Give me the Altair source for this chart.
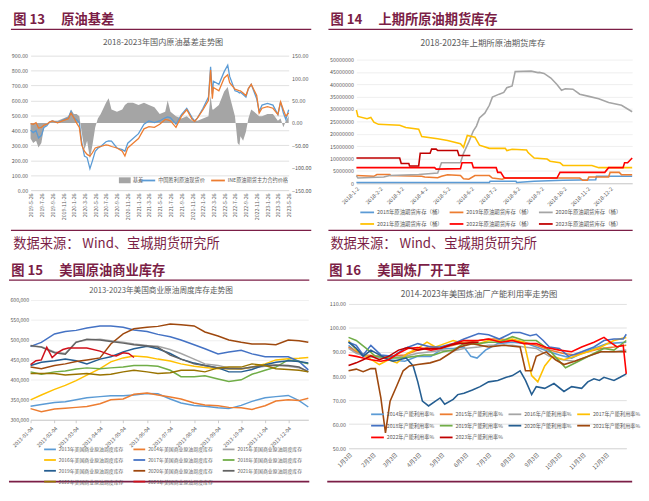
import altair as alt
import pandas as pd

FONT = "Noto Sans CJK SC"
MAROON = "#7B1E46"
TXT = "#595959"
GRIDC = "#D9D9D9"
FAINT = "#EBEBEB"
AXC = "#BFBFBF"
SOURCE = "数据来源： Wind、宝城期货研究所"

# ---------------- Fig 13 data ----------------
head13 = "图 13\u3000 原油基差"
title13 = "2018-2023年国内原油基差走势图"
dates13 = ["2019-05-26", "2019-06-10", "2019-06-26", "2019-07-10", "2019-07-26", "2019-08-10", "2019-08-26",
           "2019-09-10", "2019-09-26", "2019-10-26", "2019-11-26", "2019-12-26",
           "2020-01-10", "2020-01-26", "2020-02-10", "2020-02-26", "2020-03-10", "2020-03-26", "2020-04-10",
           "2020-04-26", "2020-05-10", "2020-05-26", "2020-06-10", "2020-06-26", "2020-07-26", "2020-08-10",
           "2020-08-26", "2020-09-26", "2020-10-26", "2020-11-10", "2020-11-26", "2020-12-26",
           "2021-01-26", "2021-02-26", "2021-03-26", "2021-04-26", "2021-05-26", "2021-06-26", "2021-07-10",
           "2021-07-26", "2021-08-26", "2021-09-26", "2021-10-26", "2021-11-26", "2021-12-10", "2021-12-26",
           "2022-01-26", "2022-02-26", "2022-03-10", "2022-03-20", "2022-03-26", "2022-04-26", "2022-05-26",
           "2022-06-15", "2022-06-26", "2022-07-26", "2022-08-10", "2022-08-20", "2022-08-26", "2022-09-10",
           "2022-09-26", "2022-10-10", "2022-10-26", "2022-11-26", "2022-12-10", "2022-12-26",
           "2023-01-26", "2023-02-26", "2023-03-26", "2023-04-10", "2023-04-26", "2023-05-10", "2023-05-26"]
spot13 = [400, 385, 399, 350, 365, 420, 431, 455, 463, 452, 469, 484,
          527, 484, 470, 452, 324, 228, 218, 143, 196, 260, 280, 292, 324, 330, 328, 282, 271, 260, 314, 345,
          378, 441, 463, 452, 463, 484, 490, 484, 441, 506, 548, 484, 463, 484,
          548, 623, 825, 644, 729, 708, 793, 836, 761, 665, 660, 650, 655, 640, 623, 680, 708, 612, 527, 569,
          580, 569, 506, 591, 516, 473, 538]
fut13 = [445, 440, 452, 415, 420, 435, 441, 455, 463, 450, 465, 478,
         516, 484, 450, 420, 303, 260, 239, 228, 250, 282, 288, 292, 303, 300, 292, 282, 260, 228, 282, 314,
         345, 410, 425, 420, 441, 473, 470, 463, 420, 495, 538, 473, 460, 484,
         538, 601, 804, 612, 687, 665, 751, 772, 719, 676, 670, 665, 665, 650, 633, 680, 708, 633, 516, 548,
         559, 548, 506, 591, 538, 495, 516]
basis13 = [-35, -45, -40, -55, -45, -10, -5, 0, 5, 5, 10, 15,
           30, 20, 20, 15, -20, -60, -40, -80, -50, -10, 10, 20, 45, 55, 30, 25, 30, 40, 45, 45,
           40, 45, 40, 35, 20, 25, 50, 25, 15, 10, 15, 5, 5, 5,
           10, 15, 60, 30, 30, 40, 70, 80, 60, 15, -45, -50, -30, -40, -20, 10, 30, 20, 15, 15,
           20, 20, 5, 10, -10, 5, 15]
basis_name = "基差"
series13 = ["中国胜利原油现货价", "INE原油期货主力合约价格"]
colors13 = ["#5B9BD5", "#ED7D31"]
ticks13 = ["2019-05-26", "2019-07-26", "2019-09-26", "2019-11-26", "2020-01-26", "2020-03-26", "2020-05-26",
           "2020-07-26", "2020-09-26", "2020-11-26", "2021-01-26", "2021-03-26", "2021-05-26", "2021-07-26",
           "2021-09-26", "2021-11-26", "2022-01-26", "2022-03-26", "2022-05-26", "2022-07-26", "2022-09-26",
           "2022-11-26", "2023-01-26", "2023-03-26", "2023-05-26"]

# ---------------- Fig 14 data (day offset from 2018-01-02, million barrels) ----------------
head14 = "图 14\u3000 上期所原油期货库存"
title14 = "2018-2023年上期所原油期货库存"
names14 = ["2018年原油期货库存（桶）", "2019年原油期货库存（桶）", "2020年原油期货库存（桶）",
           "2021年原油期货库存（桶）", "2022年原油期货库存（桶）", "2023年原油期货库存（桶）"]
colors14 = ["#5B9BD5", "#ED7D31", "#A5A5A5", "#FFC000", "#FF0000", "#C00000"]
d14_2018 = [0, 175, 176, 210, 211, 234, 272, 315, 316, 363]
v14_2018 = [0.3, 0.3, 0.8, 0.8, 0.3, 0.8, 1.2, 1.4, 2.8, 2.8]
d14_2019 = [0, 23, 27, 44, 45, 86, 90, 107, 112, 120, 137, 141, 148, 156, 175, 179, 192, 196, 294, 298, 304, 306,
            332, 334, 346, 349, 363]
v14_2019 = [3.1, 2.8, 3.5, 3.5, 3.1, 2.8, 2.5, 2.2, 2.8, 3.4, 3.1, 1.8, 1.6, 3.1, 3.1, 2.1, 1.6, 2.1, 2.1, 1.2, 1.2,
            2.5, 2.5, 4.4, 4.4, 3.4, 3.4]
d14_2020 = [0, 2, 36, 44, 82, 107, 112, 137, 141, 148, 154, 158, 162, 169, 175, 179, 188, 194, 198, 205, 209, 230,
            239, 241, 247, 256, 264, 270, 275, 285, 294, 306, 319, 332, 349, 363]
v14_2020 = [3.1, 2.1, 2.5, 3.1, 3.5, 4.1, 8.3, 8.3, 12.1, 16.7, 21.2, 23.1, 26.4, 28.3, 31.5, 34.8, 36.0, 36.7, 38.6,
            39.3, 45.1, 45.3, 44.7, 44.8, 44.4, 42.5, 39.9, 37.6, 38.2, 38.0, 36.0, 35.1, 34.1, 32.6, 31.5, 28.9]
d14_2021 = [0, 2, 14, 19, 23, 29, 57, 65, 82, 86, 107, 120, 137, 141, 146, 156, 162, 175, 196, 198, 205, 224, 226,
            234, 251, 255, 268, 272, 310, 319, 363]
v14_2021 = [29.6, 27.0, 26.1, 26.6, 24.7, 23.8, 23.4, 22.5, 21.8, 18.9, 18.0, 17.3, 16.0, 14.5, 19.3, 18.6, 15.4,
            14.1, 14.1, 13.2, 13.7, 13.4, 12.4, 10.2, 9.8, 8.9, 8.3, 7.2, 7.2, 6.3, 6.3]
d14_2022 = [0, 103, 105, 137, 139, 152, 154, 184, 186, 190, 194, 196, 264, 268, 327, 332, 351, 353, 357, 363]
v14_2022 = [6.3, 6.3, 5.7, 5.9, 8.3, 8.3, 6.3, 6.3, 4.4, 4.4, 2.5, 2.1, 2.1, 4.4, 4.4, 6.3, 6.3, 8.3, 8.3, 10.2]
d14_2023 = [0, 57, 59, 69, 70, 82, 84, 97, 99, 105, 107, 133, 135, 150]
v14_2023 = [10.2, 10.2, 8.0, 8.0, 7.0, 7.0, 12.1, 12.1, 13.8, 13.8, 13.2, 13.2, 11.2, 11.2]
ticks14 = ["2018-01-02", "2018-02-02", "2018-03-02", "2018-04-02", "2018-05-02", "2018-06-02", "2018-07-02",
           "2018-08-02", "2018-09-02", "2018-10-02", "2018-11-02", "2018-12-02"]

# ---------------- Fig 15 data (thousand barrels) ----------------
head15 = "图 15\u3000 美国原油商业库存"
title15 = "2013-2023年美国商业原油周度库存走势图"
dates15 = ["2013-01-04", "2013-01-18", "2013-02-04", "2013-02-18", "2013-03-04", "2013-03-18", "2013-04-04",
           "2013-04-18", "2013-05-04", "2013-05-18", "2013-06-04", "2013-06-18", "2013-07-04", "2013-07-18",
           "2013-08-04", "2013-08-18", "2013-09-04", "2013-09-18", "2013-10-04", "2013-10-18", "2013-11-04",
           "2013-11-18", "2013-12-04", "2013-12-18", "2013-12-30"]
v15_2013 = [334, 338, 343, 345, 350, 355, 358, 360, 360, 362, 366, 365, 352, 342, 336, 334, 330, 328, 336, 346, 355,
            358, 361, 348, 332]
v15_2014 = [328, 320, 327, 329, 331, 333, 340, 350, 352, 364, 367, 362, 357, 352, 342, 337, 335, 331, 330, 326, 335,
            347, 350, 348, 354]
v15_2015 = [484, 483, 470, 466, 495, 500, 502, 498, 494, 490, 486, 484, 476, 466, 452, 440, 436, 430, 428, 430, 434,
            436, 434, 430, 422]
v15_2016 = [350, 362, 376, 386, 398, 412, 428, 445, 455, 460, 457, 452, 447, 440, 434, 431, 428, 428, 427, 432, 440,
            450, 453, 454, 456]
v15_2017 = [484, 494, 515, 521, 524, 530, 535, 535, 532, 525, 521, 514, 508, 500, 488, 478, 465, 470, 474, 465, 458,
            458, 458, 446, 425]
v15_2018 = [420, 414, 420, 422, 427, 430, 428, 430, 432, 436, 436, 434, 424, 408, 408, 410, 402, 396, 400, 414, 424,
            432, 450, 446, 440]
v15_2019 = [436, 444, 448, 452, 448, 440, 452, 458, 470, 478, 484, 478, 466, 452, 442, 436, 430, 420, 420, 426, 438,
            444, 448, 446, 442]
v15_2020 = [432, 428, 436, 440, 446, 450, 455, 490, 515, 528, 532, 534, 540, 538, 535, 520, 510, 500, 494, 490, 490,
            488, 500, 498, 494]
v15_2021 = [486, 482, 468, 464, 494, 502, 500, 496, 492, 488, 485, 482, 462, 452, 440, 436, 430, 428, 428, 432, 436,
            437, 436, 432, 420]
v15_2022 = [416, 416, 416, 412, 414, 416, 412, 414, 420, 424, 420, 416, 418, 424, 424, 420, 430, 432, 432, 440, 436,
            428, 426, 424, 420]
dates15_2023 = ["2013-01-04", "2013-01-11", "2013-01-18", "2013-01-25", "2013-02-01", "2013-02-08", "2013-02-15",
                "2013-02-22", "2013-03-04", "2013-03-18", "2013-04-04", "2013-04-18", "2013-04-25", "2013-05-04",
                "2013-05-11", "2013-05-18"]
v15_2023 = [438, 448, 450, 482, 456, 468, 476, 480, 480, 480, 472, 462, 460, 468, 466, 456]
names15 = [f"{y}年美国商业原油周度库存" for y in range(2013, 2024)]
colors15 = ["#5B9BD5", "#ED7D31", "#A5A5A5", "#FFC000", "#4472C4", "#70AD47", "#255E91", "#9E480E", "#636363",
            "#997300", "#D0101A"]
ticks15 = ["2013-01-04", "2013-02-04", "2013-03-04", "2013-04-04", "2013-05-04", "2013-06-04", "2013-07-04",
           "2013-08-04", "2013-09-04", "2013-10-04", "2013-11-04", "2013-12-04"]

# ---------------- Fig 16 data (day offset from Jan 3, %) ----------------
head16 = "图 16\u3000 美国炼厂开工率"
title16 = "2014-2023年美国炼油厂产能利用率走势图"
d16_2014 = [0, 10, 23, 40, 52, 73, 90, 107, 123, 136, 150, 159, 167, 178, 194, 213, 232, 244, 261, 274, 290, 303, 319, 336, 361]
v16_2014 = [92.8, 90.1, 88.2, 88.2, 86.8, 86.2, 88.2, 88.2, 91.5, 91.5, 92.1, 88.2, 87.5, 90.8, 93.5, 94.1, 93.5, 92.1,
            90.1, 88.8, 87.5, 89.5, 91.5, 93.5, 94.1]
d16_2015 = [0, 10, 23, 40, 52, 73, 90, 107, 119, 136, 150, 169, 182, 198, 213, 228, 244, 261, 278, 294, 311, 328, 345, 361]
v16_2015 = [92.1, 90.1, 88.8, 88.2, 88.2, 88.8, 90.8, 92.4, 91.5, 92.8, 94.1, 94.8, 95.4, 95.4, 94.8, 94.1, 92.8, 90.8,
            89.5, 88.8, 90.1, 91.5, 92.1, 92.8]
d16_2016 = [0, 10, 23, 40, 52, 73, 90, 107, 123, 136, 150, 169, 182, 198, 213, 228, 244, 261, 278, 294, 311, 328, 345, 361]
v16_2016 = [91.5, 89.5, 88.2, 87.5, 87.5, 88.2, 89.5, 90.1, 90.8, 90.5, 91.5, 92.1, 92.8, 92.8, 92.8, 92.1, 91.5, 88.2,
            86.8, 86.2, 88.2, 90.1, 90.1, 90.8]
d16_2017 = [0, 10, 23, 40, 52, 63, 77, 90, 102, 113, 125, 136, 150, 169, 182, 198, 213, 228, 238, 246, 255, 265, 280,
            294, 311, 328, 345, 361]
v16_2017 = [94.8, 90.8, 88.2, 84.8, 86.8, 85.5, 89.5, 91.5, 94.1, 92.1, 93.5, 94.8, 93.5, 93.5, 94.8, 94.8, 95.4, 94.1,
            80.2, 77.6, 84.2, 88.2, 86.8, 88.2, 90.1, 92.1, 94.8, 96.1]
d16_2018 = [0, 10, 19, 29, 42, 58, 73, 90, 107, 119, 136, 150, 169, 182, 196, 213, 223, 236, 244, 253, 261, 274, 286,
            303, 319, 332, 345, 357, 361]
v16_2018 = [94.1, 92.8, 88.8, 92.8, 88.8, 88.2, 91.5, 93.5, 92.1, 92.1, 93.5, 95.4, 97.7, 97.2, 95.4, 98.1, 98.1, 96.8,
            97.4, 94.8, 92.1, 91.5, 88.2, 90.1, 92.1, 94.8, 95.4, 95.4, 97.4]
d16_2019 = [0, 10, 23, 35, 52, 69, 86, 98, 111, 123, 136, 150, 169, 182, 196, 213, 228, 244, 261, 282, 299, 315, 332, 345, 361]
v16_2019 = [96.1, 94.8, 91.5, 88.2, 87.5, 87.5, 88.2, 88.8, 88.8, 90.1, 90.8, 93.5, 93.5, 94.1, 94.1, 96.4, 94.8, 94.8,
            90.8, 83.5, 86.2, 88.8, 91.5, 90.8, 94.8]
d16_2020 = [0, 10, 19, 29, 40, 52, 58, 75, 84, 90, 96, 104, 113, 119, 125, 136, 142, 150, 161, 171, 182, 194, 205, 213,
            223, 230, 238, 244, 255, 267, 280, 290, 303, 311, 319, 326, 332, 345, 353, 361]
v16_2020 = [94.1, 91.5, 88.2, 90.8, 88.8, 86.8, 86.2, 87.5, 84.2, 77.6, 69.6, 67.6, 69.6, 70.9, 68.3, 70.3, 72.3, 72.9,
            74.2, 75.6, 77.6, 78.2, 79.5, 80.2, 82.2, 78.2, 72.3, 75.6, 74.9, 76.9, 73.6, 75.6, 74.9, 77.6, 78.9, 78.2,
            79.5, 78.2, 79.5, 80.9]
d16_2021 = [0, 10, 19, 29, 35, 42, 48, 54, 63, 71, 79, 90, 106, 119, 132, 144, 161, 182, 202, 223, 230, 238, 244, 257,
            269, 280, 294, 311, 328, 345, 361]
v16_2021 = [82.2, 82.9, 81.8, 83.1, 83.1, 70.9, 56.4, 69.6, 76.2, 82.2, 84.2, 84.8, 85.5, 86.8, 89.5, 92.1, 93.5, 92.1,
            92.8, 92.1, 82.2, 82.2, 88.2, 90.1, 86.8, 84.8, 86.2, 88.2, 90.1, 90.1, 90.1]
d16_2022 = [0, 10, 19, 29, 42, 52, 65, 77, 90, 107, 119, 136, 150, 169, 182, 198, 213, 228, 244, 257, 274, 290, 303,
            319, 332, 340, 349, 357, 361]
v16_2022 = [88.8, 88.2, 87.5, 86.8, 86.2, 86.8, 89.5, 91.5, 91.9, 90.8, 91.5, 93.5, 94.8, 94.8, 95.4, 94.1, 94.8, 93.5,
            93.5, 91.9, 90.8, 90.1, 92.1, 94.1, 96.1, 94.1, 92.1, 92.8, 80.9]
d16_2023 = [0, 10, 19, 29, 40, 52, 65, 77, 90, 102, 119, 132, 144, 150, 161, 169]
v16_2023 = [84.4, 85.5, 86.8, 88.4, 86.8, 88.2, 90.8, 91.9, 90.8, 91.5, 91.5, 92.8, 93.7, 93.5, 94.1, 94.1]
names16 = [f"{y}年产能利用率%" for y in range(2014, 2024)]
colors16 = ["#5B9BD5", "#ED7D31", "#A5A5A5", "#FFC000", "#4472C4", "#70AD47", "#255E91", "#9E480E", "#FF0000", "#C00000"]
ticks16 = ["2023-01-03", "2023-02-03", "2023-03-03", "2023-04-03", "2023-05-03", "2023-06-03", "2023-07-03",
           "2023-08-03", "2023-09-03", "2023-10-03", "2023-11-03", "2023-12-03"]


# ---------------- helpers ----------------
def dt(s):
    y, m, d = (int(p) for p in s.split("-"))
    return alt.DateTime(year=y, month=m, date=d, utc=True)


def offs(base, days):
    b = pd.Timestamp(base)
    return [(b + pd.Timedelta(days=int(d))).strftime("%Y-%m-%d") for d in days]


def txt(s, x, y, size, color, weight="normal", align="left"):
    return alt.Chart(pd.DataFrame({"t": [s]})).mark_text(
        align=align, baseline="middle", fontSize=size, fontWeight=weight, color=color, font=FONT
    ).encode(x=alt.value(x), y=alt.value(y), text="t:N")


def hline(x1, x2, y, width=1.3):
    return alt.Chart(pd.DataFrame({"a": [0]})).mark_rule(color=MAROON, strokeWidth=width).encode(
        x=alt.value(x1), x2=alt.value(x2), y=alt.value(y))


def xaxis(ticks, fmt, angle, size=5.5, dcolor=AXC, tick=False):
    extra = dict(ticks=True, tickSize=3, tickColor=AXC, tickWidth=0.8) if tick else dict(ticks=False)
    return alt.Axis(values=[dt(t) for t in ticks], labelExpr=f"utcFormat(datum.value, '{fmt}')",
                    labelAngle=angle, labelFontSize=size, labelOverlap=False, labelFlush=False,
                    grid=False, domain=True, domainColor=dcolor, labelPadding=3, **extra)


def long_df(names, dates_list, values_list, scale=1.0):
    parts = []
    for n, ds, vs in zip(names, dates_list, values_list):
        parts.append(pd.DataFrame({"date": ds, "series": n, "value": [v * scale for v in vs]}))
    return pd.concat(parts, ignore_index=True)


# ---------------- Panel 13 ----------------
W13, H13 = 263, 137
df13 = pd.DataFrame({"date": dates13, "basis": basis13, "lab": basis_name})
long13 = long_df(series13, [dates13, dates13], [spot13, fut13])
x13 = alt.X("date:T", title=None,
            scale=alt.Scale(type="utc", domain=[dt(dates13[0]), dt(dates13[-1])], nice=False),
            axis=xaxis(ticks13, "%Y-%-m-%-d", -90, 5.3, GRIDC))
area13 = alt.Chart(df13).mark_area(opacity=1).encode(
    x=x13,
    y=alt.Y("basis:Q", title=None, scale=alt.Scale(domain=[-150, 150], nice=False, zero=False),
            axis=alt.Axis(orient="right", values=list(range(-150, 151, 50)), format=".2f", grid=False,
                          domain=False, ticks=False, labelFontSize=5.5, labelPadding=3)),
    y2=alt.datum(0),
    fill=alt.Fill("lab:N", scale=alt.Scale(domain=[basis_name], range=["#A5A5A5"]),
                  legend=alt.Legend(title=None, orient="none", legendX=90, legendY=121, direction="horizontal",
                                    symbolType="M-1,-0.5H1V0.5H-1Z", symbolSize=144, symbolStrokeWidth=0,
                                    labelFontSize=5.5)),
)
lines13 = alt.Chart(long13).mark_line(strokeWidth=1.3).encode(
    x=x13,
    y=alt.Y("value:Q", title=None, scale=alt.Scale(domain=[0, 900], nice=False),
            axis=alt.Axis(orient="left", values=list(range(0, 901, 100)), format=".2f", grid=True,
                          domain=False, ticks=False, labelFontSize=5.5, labelPadding=3)),
    stroke=alt.Stroke("series:N", scale=alt.Scale(domain=series13, range=colors13),
                      legend=alt.Legend(title=None, orient="none", legendX=112, legendY=119,
                                        direction="horizontal", symbolType="stroke", symbolSize=196,
                                        columnPadding=2, labelFontSize=5.3)),
)
p13 = alt.layer(
    area13, lines13,
    txt(head13, -17.7, -36.5, 13.5, MAROON, "bold"),
    hline(-20, W13 + 23, -26.9),
    txt(title13, 135, -12.5, 8.3, TXT, align="center"),
    hline(-20, W13 + 23, 178),
    txt(SOURCE, -17.7, 192, 13.5, MAROON),
).resolve_scale(y="independent").properties(width=W13, height=H13)

# ---------------- Panel 14 ----------------
W14, H14 = 281, 130
d14 = [d14_2018, d14_2019, d14_2020, d14_2021, d14_2022, d14_2023]
v14 = [v14_2018, v14_2019, v14_2020, v14_2021, v14_2022, v14_2023]
long14 = long_df(names14, [offs("2018-01-02", d) for d in d14], v14, 1e6)
lines14 = alt.Chart(long14).mark_line(strokeWidth=1.6).encode(
    x=alt.X("date:T", title=None,
            scale=alt.Scale(type="utc", domain=[dt("2018-01-02"), dt("2018-12-31")], nice=False),
            axis=xaxis(ticks14, "%Y-%-m-%-d", -45, 5.5)),
    y=alt.Y("value:Q", title=None, scale=alt.Scale(domain=[0, 51550000], nice=False, zero=False),
            axis=alt.Axis(values=list(range(0, 50000001, 5000000)), format="d", grid=True, gridColor=FAINT,
                          domain=False, ticks=False, labelFontSize=5.5, labelPadding=3)),
    stroke=alt.Stroke("series:N", scale=alt.Scale(domain=names14, range=colors14),
                      legend=alt.Legend(title=None, orient="none", legendX=3, legendY=151.5, direction="horizontal",
                                        columns=3, symbolType="stroke", symbolSize=196, columnPadding=2,
                                        rowPadding=-7.2, labelFontSize=5.5)),
)
p14 = alt.layer(
    lines14,
    txt(head14, -26.5, -36.5, 13.5, MAROON, "bold"),
    hline(-28.5, W14 + 0.5, -26.9),
    txt(title14, 129, -12.5, 8.6, TXT, align="center"),
    hline(-28.5, W14 + 0.5, 178),
    txt(SOURCE, -26.5, 192, 13.5, MAROON),
).properties(width=W14, height=H14)

# ---------------- Panel 15 ----------------
W15, H15 = 283, 122
v15 = [v15_2013, v15_2014, v15_2015, v15_2016, v15_2017, v15_2018, v15_2019, v15_2020, v15_2021, v15_2022, v15_2023]
dl15 = [dates15] * 10 + [dates15_2023]
long15 = long_df(names15, dl15, v15, 1000)
lines15 = alt.Chart(long15).mark_line(strokeWidth=1.5).encode(
    x=alt.X("date:T", title=None,
            scale=alt.Scale(type="utc", domain=[dt("2013-01-04"), dt("2013-12-30")], nice=False),
            axis=xaxis(ticks15, "%Y-%m-%d", -45, 5.3, AXC, True)),
    y=alt.Y("value:Q", title=None, scale=alt.Scale(domain=[300000, 600000], nice=False, zero=False),
            axis=alt.Axis(values=list(range(300000, 600001, 50000)), format=",d", grid=True, gridColor=FAINT,
                          domain=False, ticks=False, labelFontSize=5.3, labelPadding=2)),
    stroke=alt.Stroke("series:N", scale=alt.Scale(domain=names15, range=colors15),
                      legend=alt.Legend(title=None, orient="none", legendX=12.8, legendY=145,
                                        direction="horizontal", columns=3, symbolType="stroke", symbolSize=144,
                                        columnPadding=5, rowPadding=-5, labelFontSize=5)),
)
p15 = alt.layer(
    lines15,
    txt(head15, -19.7, -29.8, 13.5, MAROON, "bold"),
    hline(-22, W15 + 1, -20.2),
    txt(title15, 133, -8.8, 7.8, TXT, align="center"),
    hline(-22, W15 + 1, 185, 1.6),
).properties(width=W15, height=H15)

# ---------------- Panel 16 ----------------
W16, H16 = 283, 151
d16 = [d16_2014, d16_2015, d16_2016, d16_2017, d16_2018, d16_2019, d16_2020, d16_2021, d16_2022, d16_2023]
v16 = [v16_2014, v16_2015, v16_2016, v16_2017, v16_2018, v16_2019, v16_2020, v16_2021, v16_2022, v16_2023]
long16 = long_df(names16, [offs("2023-01-03", d) for d in d16], v16)
lines16 = alt.Chart(long16).mark_line(strokeWidth=1.6).encode(
    x=alt.X("date:T", title=None,
            scale=alt.Scale(type="utc", domain=[dt("2023-01-03"), dt("2023-12-30")], nice=False),
            axis=xaxis(ticks16, "%-m月%-d日", -45, 5.8, GRIDC)),
    y=alt.Y("value:Q", title=None, scale=alt.Scale(domain=[50, 111.63], nice=False, zero=False),
            axis=alt.Axis(values=list(range(50, 111, 10)), format=".2f", grid=True, domain=False,
                          ticks=False, labelFontSize=5.5, labelPadding=3)),
    stroke=alt.Stroke("series:N", scale=alt.Scale(domain=names16, range=colors16),
                      legend=alt.Legend(title=None, orient="none", legendX=22, legendY=108.5,
                                        direction="horizontal", columns=4, symbolType="stroke", symbolSize=169,
                                        columnPadding=1, rowPadding=-3.5, labelFontSize=5.3)),
)
p16 = alt.layer(
    lines16,
    txt(head16, -19.7, -29.8, 13.5, MAROON, "bold"),
    hline(-21.7, W16 + 6, -20.2),
    txt(title16, 133, -6, 8.5, TXT, align="center"),
    hline(-21.7, W16 + 6, 185, 1.6),
).properties(width=W16, height=H16)

row1 = alt.hconcat(p13, p14, spacing=15).resolve_scale(
    stroke="independent", fill="independent").resolve_legend(stroke="independent", fill="independent")
row2 = alt.hconcat(p15, p16, spacing=15).resolve_scale(
    stroke="independent").resolve_legend(stroke="independent")
chart = alt.vconcat(row1, row2, spacing=13).resolve_scale(
    stroke="independent", fill="independent").resolve_legend(stroke="independent", fill="independent").properties(
    padding=0, background="white"
).configure(font=FONT).configure_axis(
    labelColor=TXT, gridColor=GRIDC, gridWidth=0.8, domainWidth=0.8
).configure_legend(
    labelColor=TXT, padding=0, symbolStrokeWidth=1.8, labelOffset=2, labelLimit=300
).configure_view(strokeWidth=0)

chart.save("out.html", embed_options={"renderer": "svg", "actions": False})
